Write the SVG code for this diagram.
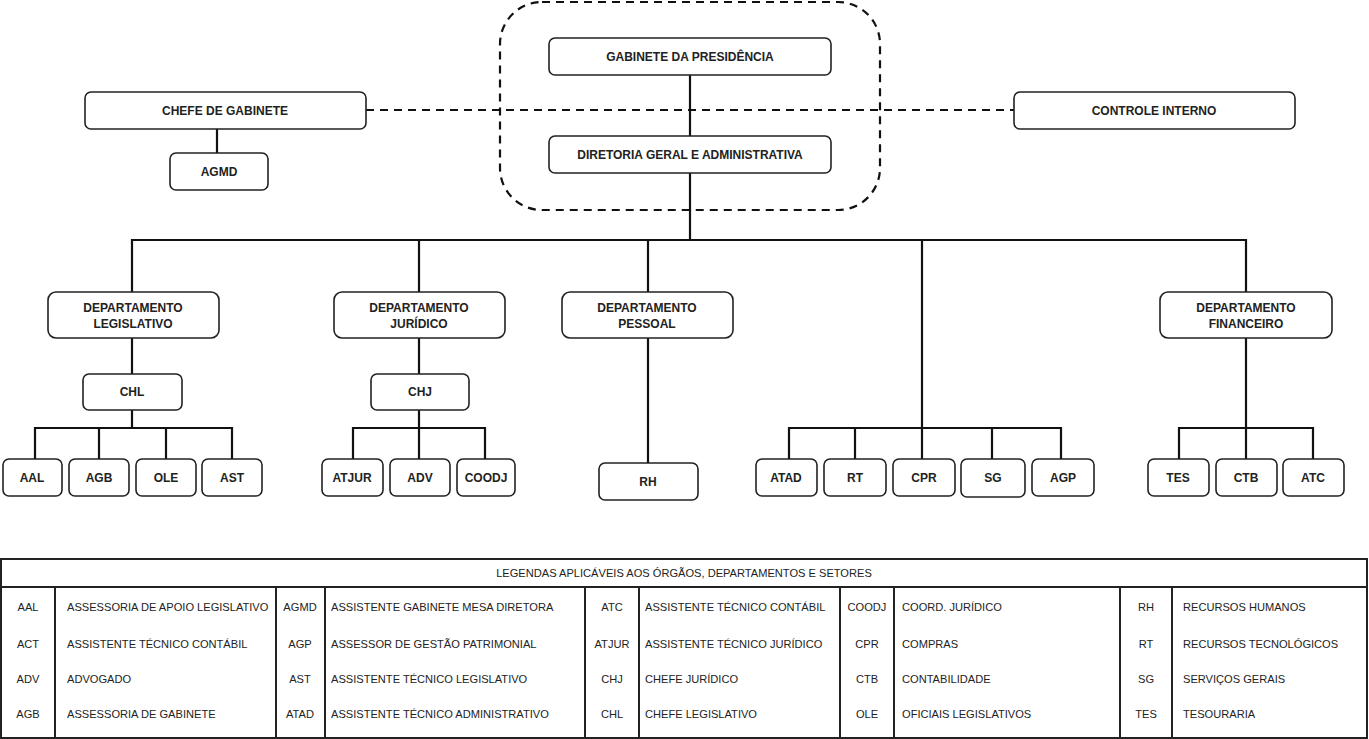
<svg xmlns="http://www.w3.org/2000/svg" width="1369" height="739" viewBox="0 0 1369 739">
<style>
.box{fill:#fff;stroke:#222;stroke-width:1.6}
.lbl{font-family:"Liberation Sans",Arial,sans-serif;font-size:12px;font-weight:bold;fill:#222;text-anchor:middle}
.con{fill:none;stroke:#111;stroke-width:2.2}
.dash{fill:none;stroke:#111;stroke-width:2.2;stroke-dasharray:8 6}
.tbl{fill:none;stroke:#222;stroke-width:2}
.lg{font-family:"Liberation Sans",Arial,sans-serif;font-size:11.1px;fill:#222}
.lc{text-anchor:middle}
</style>
<rect width="1369" height="739" fill="#fff"/>
<g id="connectors">
<rect class="dash" x="500" y="2" width="380" height="208" rx="42"/>
<line class="dash" x1="366" y1="110" x2="1014" y2="110"/>
<line class="con" x1="690" y1="75" x2="690" y2="136"/>
<line class="con" x1="690" y1="173" x2="690" y2="240"/>
<line class="con" x1="217" y1="129" x2="217" y2="153"/>
<polyline class="con" points="132,292 132,240 1246,240 1246,292"/>
<line class="con" x1="419" y1="240" x2="419" y2="292"/>
<line class="con" x1="648" y1="240" x2="648" y2="292"/>
<line class="con" x1="922" y1="240" x2="922" y2="459"/>
<line class="con" x1="132" y1="338" x2="132" y2="374"/>
<line class="con" x1="132" y1="410" x2="132" y2="428"/>
<polyline class="con" points="35,459 35,428 232,428 232,459"/>
<line class="con" x1="99" y1="428" x2="99" y2="459"/>
<line class="con" x1="166" y1="428" x2="166" y2="459"/>
<line class="con" x1="419" y1="338" x2="419" y2="374"/>
<line class="con" x1="419" y1="410" x2="419" y2="459"/>
<polyline class="con" points="353,459 353,428 485,428 485,459"/>
<line class="con" x1="648" y1="338" x2="648" y2="463"/>
<polyline class="con" points="789,459 789,428 1061,428 1061,459"/>
<line class="con" x1="855" y1="428" x2="855" y2="459"/>
<line class="con" x1="992" y1="428" x2="992" y2="459"/>
<line class="con" x1="1246" y1="338" x2="1246" y2="459"/>
<polyline class="con" points="1179,459 1179,428 1313,428 1313,459"/>
</g>
<g id="gabinete-presidencia"><rect class="box" x="549" y="38" width="282" height="37" rx="6"/><text class="lbl" x="690" y="61">GABINETE DA PRESIDÊNCIA</text></g>
<g id="diretoria"><rect class="box" x="549" y="136" width="282" height="37" rx="6"/><text class="lbl" x="690" y="159">DIRETORIA GERAL E ADMINISTRATIVA</text></g>
<g id="chefe-gabinete"><rect class="box" x="85" y="92" width="281" height="37" rx="6"/><text class="lbl" x="225" y="115">CHEFE DE GABINETE</text></g>
<g id="controle-interno"><rect class="box" x="1014" y="92" width="281" height="37" rx="6"/><text class="lbl" x="1154" y="115">CONTROLE INTERNO</text></g>
<g id="agmd"><rect class="box" x="170" y="153" width="98" height="37" rx="6"/><text class="lbl" x="219" y="176">AGMD</text></g>
<g id="dep-legislativo"><rect class="box" x="48" y="292" width="171" height="46" rx="8"/><text class="lbl" x="133" y="312">DEPARTAMENTO</text><text class="lbl" x="133" y="328">LEGISLATIVO</text></g>
<g id="dep-juridico"><rect class="box" x="334" y="292" width="171" height="46" rx="8"/><text class="lbl" x="419" y="312">DEPARTAMENTO</text><text class="lbl" x="419" y="328">JURÍDICO</text></g>
<g id="dep-pessoal"><rect class="box" x="562" y="292" width="171" height="46" rx="8"/><text class="lbl" x="647" y="312">DEPARTAMENTO</text><text class="lbl" x="647" y="328">PESSOAL</text></g>
<g id="dep-financeiro"><rect class="box" x="1160" y="292" width="172" height="46" rx="8"/><text class="lbl" x="1246" y="312">DEPARTAMENTO</text><text class="lbl" x="1246" y="328">FINANCEIRO</text></g>
<g id="chl"><rect class="box" x="83" y="374" width="99" height="36" rx="6"/><text class="lbl" x="132" y="396">CHL</text></g>
<g id="chj"><rect class="box" x="371" y="374" width="98" height="36" rx="6"/><text class="lbl" x="420" y="396">CHJ</text></g>
<g id="aal"><rect class="box" x="3" y="459" width="59" height="37" rx="6"/><text class="lbl" x="32" y="482">AAL</text></g>
<g id="agb"><rect class="box" x="69" y="459" width="60" height="37" rx="6"/><text class="lbl" x="99" y="482">AGB</text></g>
<g id="ole"><rect class="box" x="136" y="459" width="60" height="37" rx="6"/><text class="lbl" x="166" y="482">OLE</text></g>
<g id="ast"><rect class="box" x="202" y="459" width="60" height="37" rx="6"/><text class="lbl" x="232" y="482">AST</text></g>
<g id="atjur"><rect class="box" x="322" y="459" width="61" height="37" rx="6"/><text class="lbl" x="352" y="482">ATJUR</text></g>
<g id="adv"><rect class="box" x="390" y="459" width="60" height="37" rx="6"/><text class="lbl" x="420" y="482">ADV</text></g>
<g id="coodj"><rect class="box" x="457" y="459" width="58" height="37" rx="6"/><text class="lbl" x="486" y="482">COODJ</text></g>
<g id="rh"><rect class="box" x="599" y="463" width="99" height="37" rx="6"/><text class="lbl" x="648" y="486">RH</text></g>
<g id="atad"><rect class="box" x="756" y="459" width="61" height="37" rx="6"/><text class="lbl" x="786" y="482">ATAD</text></g>
<g id="rt"><rect class="box" x="824" y="459" width="62" height="37" rx="6"/><text class="lbl" x="855" y="482">RT</text></g>
<g id="cpr"><rect class="box" x="893" y="459" width="62" height="37" rx="6"/><text class="lbl" x="924" y="482">CPR</text></g>
<g id="sg"><rect class="box" x="961" y="459" width="64" height="38" rx="6"/><text class="lbl" x="993" y="482">SG</text></g>
<g id="agp"><rect class="box" x="1032" y="459" width="62" height="37" rx="6"/><text class="lbl" x="1063" y="482">AGP</text></g>
<g id="tes"><rect class="box" x="1148" y="459" width="61" height="37" rx="6"/><text class="lbl" x="1178" y="482">TES</text></g>
<g id="ctb"><rect class="box" x="1216" y="459" width="61" height="37" rx="6"/><text class="lbl" x="1246" y="482">CTB</text></g>
<g id="atc"><rect class="box" x="1283" y="459" width="61" height="37" rx="6"/><text class="lbl" x="1313" y="482">ATC</text></g>
<g id="legenda">
<rect class="tbl" x="1" y="559" width="1366" height="179"/>
<line class="tbl" x1="1" y1="587" x2="1367" y2="587"/>
<line class="tbl" x1="55" y1="587" x2="55" y2="738"/>
<line class="tbl" x1="276" y1="587" x2="276" y2="738"/>
<line class="tbl" x1="325" y1="587" x2="325" y2="738"/>
<line class="tbl" x1="585" y1="587" x2="585" y2="738"/>
<line class="tbl" x1="639" y1="587" x2="639" y2="738"/>
<line class="tbl" x1="840" y1="587" x2="840" y2="738"/>
<line class="tbl" x1="894" y1="587" x2="894" y2="738"/>
<line class="tbl" x1="1120" y1="587" x2="1120" y2="738"/>
<line class="tbl" x1="1172" y1="587" x2="1172" y2="738"/>
<text class="lg lc" x="684" y="577">LEGENDAS APLICÁVEIS AOS ÓRGÃOS, DEPARTAMENTOS E SETORES</text>
<text class="lg lc" x="28" y="611">AAL</text><text class="lg" x="67" y="611">ASSESSORIA DE APOIO LEGISLATIVO</text>
<text class="lg lc" x="28" y="648">ACT</text><text class="lg" x="67" y="648">ASSISTENTE TÉCNICO  CONTÁBIL</text>
<text class="lg lc" x="28" y="683">ADV</text><text class="lg" x="67" y="683">ADVOGADO</text>
<text class="lg lc" x="28" y="718">AGB</text><text class="lg" x="67" y="718">ASSESSORIA DE GABINETE</text>
<text class="lg lc" x="300" y="611">AGMD</text><text class="lg" x="331" y="611">ASSISTENTE GABINETE MESA DIRETORA</text>
<text class="lg lc" x="300" y="648">AGP</text><text class="lg" x="331" y="648">ASSESSOR DE GESTÃO PATRIMONIAL</text>
<text class="lg lc" x="300" y="683">AST</text><text class="lg" x="331" y="683">ASSISTENTE TÉCNICO LEGISLATIVO</text>
<text class="lg lc" x="300" y="718">ATAD</text><text class="lg" x="331" y="718">ASSISTENTE TÉCNICO ADMINISTRATIVO</text>
<text class="lg lc" x="612" y="611">ATC</text><text class="lg" x="645" y="611">ASSISTENTE TÉCNICO CONTÁBIL</text>
<text class="lg lc" x="612" y="648">ATJUR</text><text class="lg" x="645" y="648">ASSISTENTE TÉCNICO JURÍDICO</text>
<text class="lg lc" x="612" y="683">CHJ</text><text class="lg" x="645" y="683">CHEFE JURÍDICO</text>
<text class="lg lc" x="612" y="718">CHL</text><text class="lg" x="645" y="718">CHEFE LEGISLATIVO</text>
<text class="lg lc" x="867" y="611">COODJ</text><text class="lg" x="902" y="611">COORD. JURÍDICO</text>
<text class="lg lc" x="867" y="648">CPR</text><text class="lg" x="902" y="648">COMPRAS</text>
<text class="lg lc" x="867" y="683">CTB</text><text class="lg" x="902" y="683">CONTABILIDADE</text>
<text class="lg lc" x="867" y="718">OLE</text><text class="lg" x="902" y="718">OFICIAIS LEGISLATIVOS</text>
<text class="lg lc" x="1146" y="611">RH</text><text class="lg" x="1183" y="611">RECURSOS HUMANOS</text>
<text class="lg lc" x="1146" y="648">RT</text><text class="lg" x="1183" y="648">RECURSOS TECNOLÓGICOS</text>
<text class="lg lc" x="1146" y="683">SG</text><text class="lg" x="1183" y="683">SERVIÇOS GERAIS</text>
<text class="lg lc" x="1146" y="718">TES</text><text class="lg" x="1183" y="718">TESOURARIA</text>
</g>
</svg>
